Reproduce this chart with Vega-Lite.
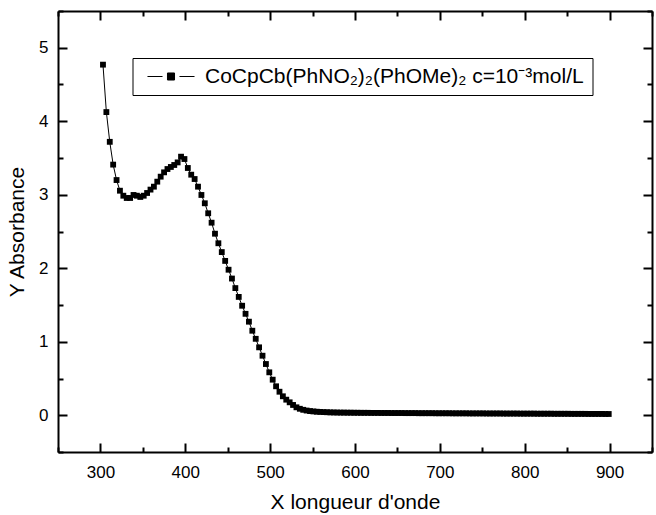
{
  "$schema": "https://vega.github.io/schema/vega-lite/v6.json",
  "width": 594,
  "height": 441,
  "autosize": {"type": "none"},
  "padding": {"left": 58, "top": 11, "right": 4, "bottom": 63},
  "config": {
    "font": "Liberation Sans",
    "view": {"stroke": null},
    "axis": {
      "domainColor": "black", "domainWidth": 2, "tickColor": "black", "tickWidth": 2,
      "grid": false, "labelColor": "black", "titleColor": "black", "labelFlush": false,
      "labelOverlap": false, "labelFontSize": 17, "titleFontSize": 21, "titleFontWeight": "normal"
    }
  },
  "data": {"values": [
    {"w":303,"a":4.77},{"w":307,"a":4.125},{"w":311,"a":3.72},{"w":315,"a":3.41},{"w":319,"a":3.2},
    {"w":323,"a":3.055},{"w":327,"a":2.987},{"w":331,"a":2.956},{"w":335,"a":2.956},{"w":339,"a":2.997},
    {"w":343,"a":2.987},{"w":347,"a":2.97},{"w":351,"a":2.987},{"w":355,"a":3.024},{"w":359,"a":3.07},
    {"w":363,"a":3.11},{"w":367,"a":3.178},{"w":371,"a":3.246},{"w":375,"a":3.305},{"w":379,"a":3.35},
    {"w":383,"a":3.378},{"w":387,"a":3.405},{"w":391,"a":3.44},{"w":395,"a":3.518},{"w":399,"a":3.486},
    {"w":403,"a":3.364},{"w":407,"a":3.273},{"w":411,"a":3.214},{"w":415,"a":3.11},{"w":419,"a":2.997},
    {"w":423,"a":2.884},{"w":427,"a":2.748},{"w":431,"a":2.62},{"w":435,"a":2.47},{"w":439,"a":2.34},
    {"w":443,"a":2.22},{"w":447,"a":2.1},{"w":451,"a":1.98},{"w":455,"a":1.86},{"w":459,"a":1.73},
    {"w":463,"a":1.61},{"w":467,"a":1.49},{"w":471,"a":1.38},{"w":475,"a":1.273},{"w":479,"a":1.15},
    {"w":483,"a":1.04},{"w":487,"a":0.924},{"w":491,"a":0.81},{"w":495,"a":0.697},{"w":499,"a":0.584},
    {"w":503,"a":0.484},{"w":507,"a":0.394},{"w":511,"a":0.32},{"w":515,"a":0.258},{"w":519,"a":0.212},
    {"w":523,"a":0.176},{"w":527,"a":0.14},{"w":531,"a":0.108},{"w":535,"a":0.088},{"w":539,"a":0.074},
    {"w":543,"a":0.064},{"w":547,"a":0.057},{"w":551,"a":0.052},{"w":555,"a":0.048},{"w":559,"a":0.045},
    {"w":563,"a":0.043},{"w":567,"a":0.041},{"w":571,"a":0.039},{"w":575,"a":0.038},{"w":579,"a":0.037},
    {"w":583,"a":0.036},{"w":587,"a":0.036},{"w":591,"a":0.035},{"w":595,"a":0.035},{"w":599,"a":0.034},
    {"w":603,"a":0.034},{"w":607,"a":0.033},{"w":611,"a":0.033},{"w":615,"a":0.033},{"w":619,"a":0.032},
    {"w":623,"a":0.032},{"w":627,"a":0.032},{"w":631,"a":0.031},{"w":635,"a":0.031},{"w":639,"a":0.031},
    {"w":643,"a":0.03},{"w":647,"a":0.03},{"w":651,"a":0.03},{"w":655,"a":0.03},{"w":659,"a":0.029},
    {"w":663,"a":0.029},{"w":667,"a":0.029},{"w":671,"a":0.029},{"w":675,"a":0.028},{"w":679,"a":0.028},
    {"w":683,"a":0.028},{"w":687,"a":0.028},{"w":691,"a":0.028},{"w":695,"a":0.027},{"w":699,"a":0.027},
    {"w":703,"a":0.027},{"w":707,"a":0.027},{"w":711,"a":0.027},{"w":715,"a":0.026},{"w":719,"a":0.026},
    {"w":723,"a":0.026},{"w":727,"a":0.026},{"w":731,"a":0.026},{"w":735,"a":0.025},{"w":739,"a":0.025},
    {"w":743,"a":0.025},{"w":747,"a":0.025},{"w":751,"a":0.025},{"w":755,"a":0.024},{"w":759,"a":0.024},
    {"w":763,"a":0.024},{"w":767,"a":0.024},{"w":771,"a":0.024},{"w":775,"a":0.023},{"w":779,"a":0.023},
    {"w":783,"a":0.023},{"w":787,"a":0.023},{"w":791,"a":0.023},{"w":795,"a":0.022},{"w":799,"a":0.022},
    {"w":803,"a":0.022},{"w":807,"a":0.022},{"w":811,"a":0.022},{"w":815,"a":0.021},{"w":819,"a":0.021},
    {"w":823,"a":0.021},{"w":827,"a":0.021},{"w":831,"a":0.021},{"w":835,"a":0.02},{"w":839,"a":0.02},
    {"w":843,"a":0.02},{"w":847,"a":0.02},{"w":851,"a":0.02},{"w":855,"a":0.019},{"w":859,"a":0.019},
    {"w":863,"a":0.019},{"w":867,"a":0.019},{"w":871,"a":0.019},{"w":875,"a":0.018},{"w":879,"a":0.018},
    {"w":883,"a":0.018},{"w":887,"a":0.018},{"w":891,"a":0.018},{"w":895,"a":0.017},{"w":899,"a":0.017}
  ]},
  "layer": [
    {
      "mark": {"type": "line", "color": "black", "strokeWidth": 1},
      "encoding": {
        "x": {"field": "w", "type": "quantitative",
          "scale": {"domain": [250, 950], "nice": false, "zero": false},
          "axis": {"orient": "bottom", "title": "X longueur d'onde",
            "values": [300,400,500,600,700,800,900], "format": "d",
            "tickSize": -9, "labelPadding": 21, "titlePadding": 11}},
        "y": {"field": "a", "type": "quantitative",
          "scale": {"domain": [-0.5, 5.5], "nice": false, "zero": false},
          "axis": {"orient": "left", "title": "Y Absorbance",
            "values": [0,1,2,3,4,5], "format": "d",
            "tickSize": -9, "labelPadding": 19, "titlePadding": 11}}
      }
    },
    {
      "mark": {"type": "point", "shape": "square", "filled": true, "size": 34, "opacity": 1},
      "encoding": {
        "x": {"field": "w", "type": "quantitative",
          "scale": {"domain": [250, 950], "nice": false, "zero": false},
          "axis": {"orient": "top", "title": null, "labels": false,
            "values": [300,400,500,600,700,800,900], "tickSize": -9}},
        "y": {"field": "a", "type": "quantitative",
          "scale": {"domain": [-0.5, 5.5], "nice": false, "zero": false},
          "axis": {"orient": "right", "title": null, "labels": false,
            "values": [0,1,2,3,4,5], "tickSize": -9}},
        "color": {"datum": "CoCpCb(PhNO₂)₂(PhOMe)₂ c=10⁻³mol/L", "type": "nominal",
          "scale": {"range": ["black"]},
          "legend": {"orient": "none", "legendX": 74.5, "legendY": 47, "title": null,
            "strokeColor": "black", "fillColor": "white", "padding": 8, "cornerRadius": 0,
            "labelFontSize": 21, "labelColor": "black", "labelLimit": 0, "labelOffset": 43.5,
            "symbolSize": 256, "symbolFillColor": "black", "symbolStrokeColor": "black", "symbolStrokeWidth": 1,
            "symbolType": "M-0.44,0H1.44M3.56,0H5.44M2.06,-0.44H2.94V0.44H2.06Z"}}
      }
    },
    {
      "mark": {"type": "point", "opacity": 0},
      "encoding": {
        "x": {"field": "w", "type": "quantitative",
          "scale": {"domain": [250, 950], "nice": false, "zero": false},
          "axis": {"orient": "bottom", "title": null, "labels": false, "domain": false,
            "values": [250,350,450,550,650,750,850,950], "tickSize": -5}},
        "y": {"field": "a", "type": "quantitative",
          "scale": {"domain": [-0.5, 5.5], "nice": false, "zero": false},
          "axis": {"orient": "left", "title": null, "labels": false, "domain": false,
            "values": [-0.5,0.5,1.5,2.5,3.5,4.5,5.5], "tickSize": -5}}
      }
    },
    {
      "mark": {"type": "point", "opacity": 0},
      "encoding": {
        "x": {"field": "w", "type": "quantitative",
          "scale": {"domain": [250, 950], "nice": false, "zero": false},
          "axis": {"orient": "top", "title": null, "labels": false, "domain": false,
            "values": [250,350,450,550,650,750,850,950], "tickSize": -5}},
        "y": {"field": "a", "type": "quantitative",
          "scale": {"domain": [-0.5, 5.5], "nice": false, "zero": false},
          "axis": {"orient": "right", "title": null, "labels": false, "domain": false,
            "values": [-0.5,0.5,1.5,2.5,3.5,4.5,5.5], "tickSize": -5}}
      }
    }
  ],
  "resolve": {"axis": {"x": "independent", "y": "independent"}}
}
